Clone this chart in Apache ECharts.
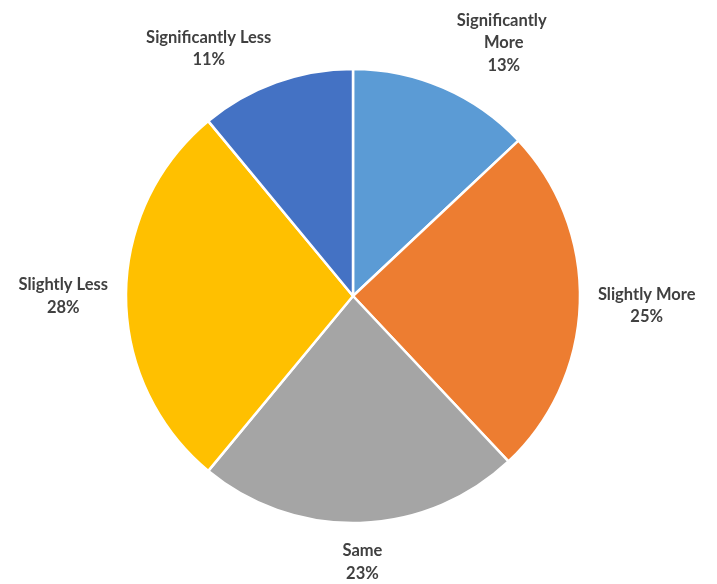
<!DOCTYPE html>
<html>
<head>
<meta charset="utf-8">
<script src="https://cdn.jsdelivr.net/npm/echarts@6/dist/echarts.min.js"></script>
<style>
  html, body { margin: 0; padding: 0; background: #fff; }
  #chart { width: 717px; height: 584px; }
</style>
</head>
<body>
<div id="chart"></div>
<script>
// Share of responses per category, clockwise from 12 o'clock
const categories = ['Significantly More', 'Slightly More', 'Same', 'Slightly Less', 'Significantly Less'];
const shares = [13, 25, 23, 28, 11];
const colors = ['#5B9BD5', '#ED7D31', '#A5A5A5', '#FFC000', '#4472C4'];

const CX = 353, CY = 296, R = 227, GAP = 14;

// Mid angle of each slice (radians, clockwise from top)
const total = shares.reduce((a, b) => a + b, 0);
const midAngles = [];
let acc = 0;
shares.forEach(v => { midAngles.push((acc + v / 2) / total * Math.PI * 2); acc += v; });

const clamp = (v) => Math.max(-1, Math.min(1, v));

const chart = echarts.init(document.getElementById('chart'));
chart.setOption({
  animation: false,
  series: [{
    type: 'pie',
    center: [CX, CY],
    radius: R,
    startAngle: 90,
    clockwise: true,
    avoidLabelOverlap: false,
    itemStyle: { borderColor: '#ffffff', borderWidth: 2.5 },
    label: {
      show: true,
      position: 'outside',
      formatter: '{b}\n{c}%',
      fontFamily: 'Lato, "Open Sans", sans-serif',
      fontSize: 16.5,
      fontWeight: 'bold',
      lineHeight: 22.5,
      color: '#404040',
      align: 'center'
    },
    labelLine: { show: false },
    // Place each label box just outside the rim, pushed away along its slice's mid angle
    labelLayout: function (p) {
      const a = midAngles[p.dataIndex];
      const sx = Math.sin(a), cy = Math.cos(a);
      const ax = CX + (R + GAP) * sx;
      const ay = CY - (R + GAP) * cy;
      const w = p.labelRect.width, h = p.labelRect.height;
      const sideExtra = Math.abs(sx) > 0.9 ? Math.sign(sx) * 4 : 0;
      return {
        x: ax + clamp(sx * 3) * w / 2 + sideExtra,
        y: ay - clamp(cy * 3) * h / 2 + (cy < -0.9 ? 3 : 0) + (cy > 0.9 ? 2 : 0),
        align: 'center',
        verticalAlign: 'middle'
      };
    },
    data: categories.map((name, i) => {
      const item = { name: name, value: shares[i], itemStyle: { color: colors[i] } };
      if (i === 0) item.label = { width: 110, overflow: 'break' };
      return item;
    })
  }]
});
</script>
</body>
</html>
